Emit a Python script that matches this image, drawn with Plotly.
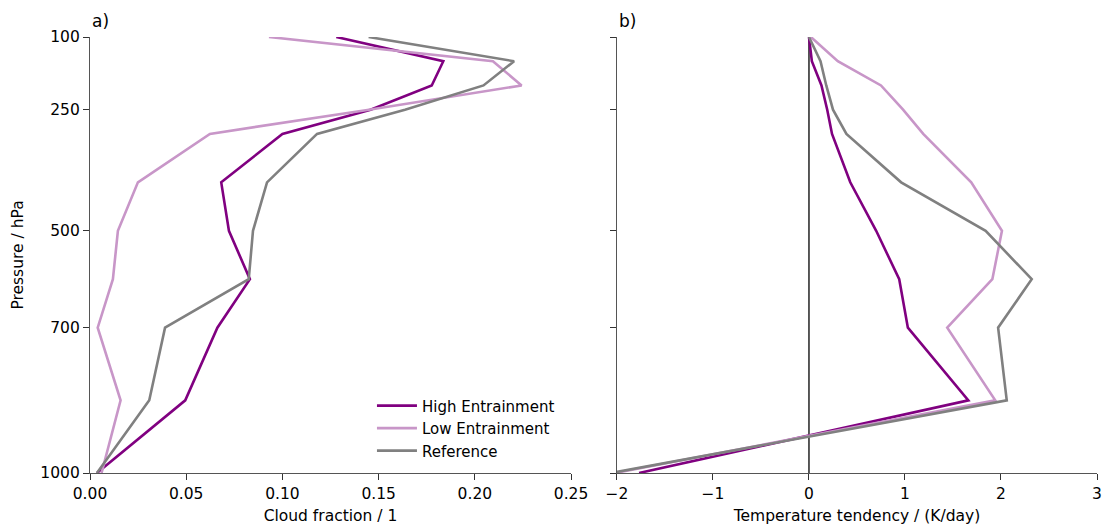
import plotly.graph_objects as go

pressure = [100, 150, 200, 250, 300, 400, 500, 600, 700, 850, 1000]

cloud_high = [0.128, 0.1836, 0.1776, 0.1458, 0.100, 0.0682, 0.0722, 0.0831, 0.0662, 0.0495, 0.0036]
cloud_low = [0.093, 0.2094, 0.2243, 0.145, 0.0623, 0.0249, 0.0145, 0.0119, 0.004, 0.0159, 0.006]
cloud_ref = [0.1448, 0.2204, 0.2045, 0.1637, 0.118, 0.092, 0.0847, 0.0825, 0.039, 0.0308, 0.0036]

tend_high = [0.0, 0.03, 0.13, 0.19, 0.24, 0.43, 0.70, 0.94, 1.03, 1.66, -1.77]
tend_low = [0.02, 0.30, 0.75, 0.98, 1.19, 1.69, 2.01, 1.91, 1.44, 1.94, -2.02]
tend_ref = [0.0, 0.12, 0.18, 0.25, 0.39, 0.96, 1.84, 2.32, 1.97, 2.06, -2.06]

names = ["High Entrainment", "Low Entrainment", "Reference"]
colors = ["#800080", "#c896c8", "#808080"]

pressure_ticks = [100, 250, 500, 700, 1000]

FONT = "DejaVu Sans"
AX = "#555555"
FS = 15.5

fig = go.Figure()

for name, col, vals in zip(names, colors, [cloud_high, cloud_low, cloud_ref]):
    fig.add_trace(go.Scatter(x=vals, y=pressure, mode="lines", name=name,
                             line=dict(color=col, width=2.6), xaxis="x", yaxis="y"))

fig.add_trace(go.Scatter(x=[0, 0], y=[pressure[0], pressure[-1]], mode="lines",
                         line=dict(color="black", width=1.3), showlegend=False,
                         xaxis="x2", yaxis="y2", hoverinfo="skip"))

for name, col, vals in zip(names, colors, [tend_high, tend_low, tend_ref]):
    fig.add_trace(go.Scatter(x=vals, y=pressure, mode="lines", name=name,
                             line=dict(color=col, width=2.6), showlegend=False,
                             xaxis="x2", yaxis="y2"))

common_ax = dict(showline=True, linecolor=AX, linewidth=1.3, ticks="outside",
                 ticklen=6, tickwidth=1.3, tickcolor="#333333", showgrid=False,
                 zeroline=False, automargin=False,
                 tickfont=dict(family=FONT, size=FS, color="black"))

fig.update_layout(
    width=1109, height=531,
    margin=dict(l=90, r=12, t=37, b=58, autoexpand=False),
    plot_bgcolor="white", paper_bgcolor="white",
    font=dict(family=FONT, size=FS, color="black"),
    xaxis=dict(domain=[0, 0.4777], range=[0, 0.25], dtick=0.05, tickformat=".2f",
               title=dict(text="Cloud fraction / 1", font=dict(size=FS), standoff=8),
               anchor="y", **common_ax),
    yaxis=dict(domain=[0, 1], range=[1000, 100], tickvals=pressure_ticks,
               title=dict(text="Pressure / hPa", font=dict(size=FS), standoff=12),
               anchor="x", **common_ax),
    xaxis2=dict(domain=[0.5233, 1], range=[-2, 3], dtick=1,
                title=dict(text="Temperature tendency / (K/day)", font=dict(size=FS), standoff=8),
                anchor="y2", **common_ax),
    yaxis2=dict(domain=[0, 1], range=[1000, 100], tickvals=pressure_ticks,
                showticklabels=False, anchor="x2", **common_ax),
    legend=dict(x=0.280, y=0.1917, xanchor="left", yanchor="top",
                font=dict(family=FONT, size=15), bgcolor="rgba(0,0,0,0)",
                tracegroupgap=0, itemwidth=40),
    showlegend=True,
    annotations=[
        dict(text="a)", x=0, y=1, xref="x domain", yref="paper", xanchor="left",
             yanchor="bottom", yshift=4, showarrow=False, font=dict(size=17)),
        dict(text="b)", x=0.5233, y=1, xref="paper", yref="paper", xanchor="left",
             yanchor="bottom", yshift=4, showarrow=False, font=dict(size=17)),
    ],
)

fig.write_html("out.html")
